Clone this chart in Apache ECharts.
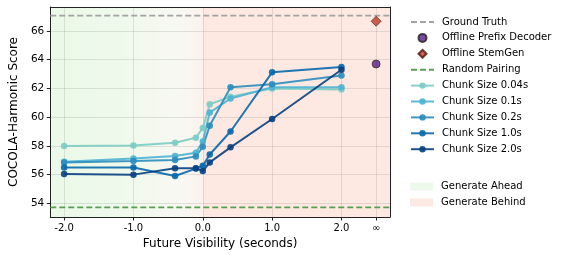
<!DOCTYPE html>
<html><head><meta charset="utf-8">
<script src="https://cdn.jsdelivr.net/npm/echarts@6/dist/echarts.min.js"></script>
<style>html,body{margin:0;padding:0;background:#fff}#c{width:570px;height:256px}</style>
</head><body><div id="c"></div>
<script>
// ---- data ----
const visibility = [-2, -1, -0.4, -0.1, 0, 0.1, 0.4, 1, 2];
const chunk004 = [58.0, 58.03, 58.22, 58.57, 59.25, 60.9, 61.43, 62.0, 61.92];
const chunk01  = [56.9, 57.13, 57.3, 57.53, 58.3, 60.32, 61.3, 62.08, 62.08];
const chunk02  = [56.85, 56.95, 57.02, 57.27, 57.94, 59.4, 62.08, 62.3, 62.9];
const chunk10  = [56.5, 56.5, 55.9, 56.42, 56.62, 57.4, 59.0, 63.12, 63.5];
const chunk20  = [56.05, 56.0, 56.45, 56.45, 56.25, 56.85, 57.9, 59.87, 63.3];
const infinityX = 2.5;
const groundTruth = 67.07;
const randomPairing = 53.72;
const offlinePrefix = 63.7;
const offlineStemGen = 66.68;
const xTicks = [-2, -1, 0, 1, 2, 2.5];
const xTickLabels = ['-2.0', '-1.0', '0.0', '1.0', '2.0', '\u221e'];
const yTicks = [54, 56, 58, 60, 62, 64, 66];
const X_MIN = -2.2, X_MAX = 2.7, Y_MIN = 53.05, Y_MAX = 67.67;

const FONT = 'DejaVu Sans';
const chart = echarts.init(document.getElementById('c'), null, {renderer: 'canvas'});
const pair = (xs, ys) => xs.map((x, i) => [x, ys[i]]);

const chunkSeries = [
  ['Chunk Size 0.04s', chunk004, '#7bccc4'],
  ['Chunk Size 0.1s', chunk01, '#4eb3d3'],
  ['Chunk Size 0.2s', chunk02, '#2b8cbe'],
  ['Chunk Size 1.0s', chunk10, '#0868ac'],
  ['Chunk Size 2.0s', chunk20, '#084081']
].map(([name, vals, color]) => ({
  name, type: 'line', data: pair(visibility, vals), z: 5,
  symbol: 'circle', symbolSize: 6.5,
  lineStyle: {color, width: 2, opacity: 0.9},
  itemStyle: {color, opacity: 0.9},
  emphasis: {disabled: true}, animation: false
}));

const aheadGrad = new echarts.graphic.LinearGradient(0, 0, 1, 0, [
  {offset: 0, color: '#ebf9e8'}, {offset: 0.45, color: '#eef9eb'},
  {offset: 0.85, color: '#f8f8f2'}, {offset: 1, color: '#fbf2ec'}
]);

const legendText = {fontFamily: FONT, fontSize: 10, color: '#000', lineHeight: 14, padding: [0, 0, 0, 3]};

const option = {
  animation: false,
  backgroundColor: '#fff',
  textStyle: {fontFamily: FONT},
  grid: {left: 42, right: 180, top: 7, bottom: 39},
  xAxis: [{
    type: 'value', min: X_MIN, max: X_MAX, z: 3,
    name: 'Future Visibility (seconds)', nameLocation: 'middle', nameGap: 18,
    nameTextStyle: {fontFamily: FONT, fontSize: 12, color: '#000'},
    axisLine: {show: true, onZero: false, lineStyle: {color: '#222', width: 1}},
    axisTick: {show: true, length: 3.5, customValues: xTicks, lineStyle: {color: '#222'}},
    axisLabel: {customValues: xTicks, margin: 6, fontFamily: FONT, fontSize: 10, color: '#000',
      formatter: v => xTickLabels[xTicks.indexOf(v)] ?? ''},
    splitLine: {show: true, lineStyle: {color: 'rgba(110,110,110,0.18)', width: 1}}
  }, {
    type: 'value', position: 'top', min: X_MIN, max: X_MAX, z: 3,
    axisLine: {show: true, onZero: false, lineStyle: {color: '#222', width: 1}},
    axisTick: {show: false}, axisLabel: {show: false}, splitLine: {show: false}
  }],
  yAxis: [{
    type: 'value', min: Y_MIN, max: Y_MAX, z: 3,
    name: 'COCOLA-Harmonic Score', nameLocation: 'middle', nameGap: 22,
    nameTextStyle: {fontFamily: FONT, fontSize: 12, color: '#000'},
    axisLine: {show: true, onZero: false, lineStyle: {color: '#222', width: 1}},
    axisTick: {show: true, length: 3.5, customValues: yTicks, lineStyle: {color: '#222'}},
    axisLabel: {customValues: yTicks, margin: 6, fontFamily: FONT, fontSize: 10.5, color: '#000',
      formatter: v => String(v)},
    splitLine: {show: true, lineStyle: {color: 'rgba(110,110,110,0.18)', width: 1}}
  }, {
    type: 'value', position: 'right', min: Y_MIN, max: Y_MAX, z: 3,
    axisLine: {show: true, onZero: false, lineStyle: {color: '#222', width: 1}},
    axisTick: {show: false}, axisLabel: {show: false}, splitLine: {show: false}
  }],
  legend: [{
    orient: 'vertical', left: 410, top: 15, padding: 0, itemWidth: 23, itemHeight: 8, itemGap: 1.9,
    textStyle: legendText, selectedMode: false,
    data: [
      {name: 'Ground Truth', itemStyle: {opacity: 0}},
      {name: 'Offline Prefix Decoder', icon: 'path://M0,-1A1,1 0 1 1 0,1A1,1 0 1 1 0,-1Z'},
      {name: 'Offline StemGen', icon: 'path://M0,-1L1,0L0,1L-1,0Z'},
      {name: 'Random Pairing', itemStyle: {opacity: 0}},
      'Chunk Size 0.04s', 'Chunk Size 0.1s', 'Chunk Size 0.2s', 'Chunk Size 1.0s', 'Chunk Size 2.0s'
    ]
  }, {
    orient: 'vertical', left: 410, top: 179.5, padding: 0, itemWidth: 23, itemHeight: 8, itemGap: 2,
    textStyle: legendText, selectedMode: false,
    data: [{name: 'Generate Ahead', icon: 'rect'}, {name: 'Generate Behind', icon: 'rect'}]
  }],
  series: [
    {
      name: 'Generate Ahead', type: 'scatter', data: [], z: 1,
      itemStyle: {color: '#e8f8e6'},
      markArea: {silent: true, itemStyle: {color: aheadGrad},
        data: [[{xAxis: X_MIN}, {xAxis: 0}]]}
    },
    {
      name: 'Generate Behind', type: 'scatter', data: [], z: 1,
      itemStyle: {color: '#fde4dc'},
      markArea: {silent: true, itemStyle: {color: '#fde9e1'},
        data: [[{xAxis: 0}, {xAxis: X_MAX}]]}
    },
    {
      name: 'Ground Truth', type: 'line', symbol: 'none', z: 4,
      data: [[X_MIN, groundTruth], [X_MAX, groundTruth]],
      lineStyle: {color: '#a3a3a3', width: 1.6, type: [6, 3]},
      itemStyle: {color: '#a3a3a3'}
    },
    {
      name: 'Random Pairing', type: 'line', symbol: 'none', z: 4,
      data: [[X_MIN, randomPairing], [X_MAX, randomPairing]],
      lineStyle: {color: '#5a9e55', width: 1.6, type: [6, 3]},
      itemStyle: {color: '#5a9e55'}
    },
    {
      name: 'Offline Prefix Decoder', type: 'scatter', z: 6,
      data: [[infinityX, offlinePrefix]], symbol: 'circle', symbolSize: 8,
      itemStyle: {color: '#5a1c86', borderColor: '#222', borderWidth: 0.8}
    },
    {
      name: 'Offline StemGen', type: 'scatter', z: 6,
      data: [[infinityX, offlineStemGen]], symbol: 'diamond', symbolSize: 10,
      itemStyle: {color: '#c0392b', borderColor: '#4a1a12', borderWidth: 0.8}
    },
    ...chunkSeries
  ]
};
chart.setOption(option);
</script>
</body></html>
